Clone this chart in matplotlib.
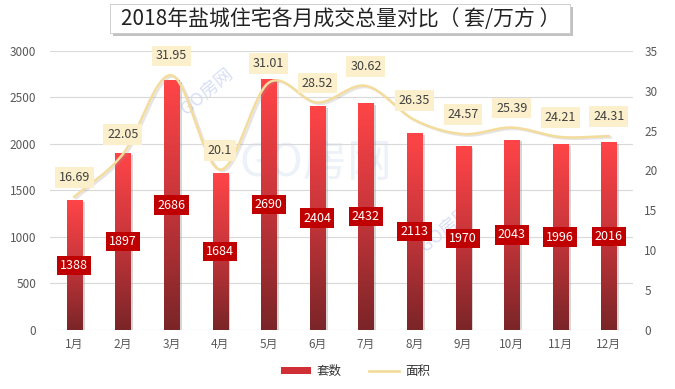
import numpy as np
import matplotlib.pyplot as plt
import matplotlib.patheffects as pe
from matplotlib.colors import LinearSegmentedColormap
from matplotlib.lines import Line2D
from matplotlib.patches import Patch, Rectangle

plt.rcParams["font.family"] = ["Noto Sans CJK SC", "DejaVu Sans"]

months = ["1月", "2月", "3月", "4月", "5月", "6月", "7月", "8月", "9月", "10月", "11月", "12月"]
units = [1388, 1897, 2686, 1684, 2690, 2404, 2432, 2113, 1970, 2043, 1996, 2016]
area = [16.69, 22.05, 31.95, 20.1, 31.01, 28.52, 30.62, 26.35, 24.57, 25.39, 24.21, 24.31]
title = "2018年盐城住宅各月成交总量对比（ 套/万方 ）"

TICK_C = "#595959"
LINE_C = "#F3DC9C"
BAR_CMAP = LinearSegmentedColormap.from_list("bar", ["#7A2528", "#C5353A", "#FF4548"])


def smooth(xs, ys, n=20):
    # Catmull-Rom curve through the points, like an office "smoothed line"
    xs = np.asarray(xs, float)
    ys = np.asarray(ys, float)
    px = np.concatenate([[2 * xs[0] - xs[1]], xs, [2 * xs[-1] - xs[-2]]])
    py = np.concatenate([[2 * ys[0] - ys[1]], ys, [2 * ys[-1] - ys[-2]]])
    out_x, out_y = [], []
    t = np.linspace(0, 1, n, endpoint=False)
    for i in range(1, len(px) - 2):
        for p, o in ((px, out_x), (py, out_y)):
            p0, p1, p2, p3 = p[i - 1], p[i], p[i + 1], p[i + 2]
            o.extend(0.5 * ((2 * p1) + (-p0 + p2) * t
                            + (2 * p0 - 5 * p1 + 4 * p2 - p3) * t ** 2
                            + (-p0 + 3 * p1 - 3 * p2 + p3) * t ** 3))
    out_x.append(xs[-1])
    out_y.append(ys[-1])
    return np.array(out_x), np.array(out_y)


fig = plt.figure(figsize=(6.75, 3.89), dpi=100)
ax = fig.add_axes([0.074, 0.152, 0.864, 0.717])
x = np.arange(len(months))

# faint watermark behind everything
ax.text(0.455, 0.60, "GO房网", transform=ax.transAxes, fontsize=32, color="#8FA8D8", alpha=0.16,
        ha="center", va="center", zorder=0)
ax.text(0.27, 0.85, "GO房网", transform=ax.transAxes, fontsize=13, color="#7E95E0", alpha=0.3,
        rotation=40, ha="center", va="center", zorder=0)
ax.text(0.68, 0.36, "GO房网", transform=ax.transAxes, fontsize=13, color="#7E95E0", alpha=0.3,
        rotation=40, ha="center", va="center", zorder=0)

# bars with soft shadow, then a vertical gradient clipped into each bar
bars = ax.bar(x, units, width=0.31, color="#C5353A", zorder=2,
              path_effects=[pe.SimplePatchShadow(offset=(2, -1), shadow_rgbFace="#999999", alpha=0.4),
                            pe.Normal()])
grad = np.linspace(0, 1, 256).reshape(-1, 1)
for b in bars:
    x0, w, h = b.get_x(), b.get_width(), b.get_height()
    ax.imshow(grad, extent=[x0, x0 + w, 0, h], origin="lower", aspect="auto",
              cmap=BAR_CMAP, zorder=2.1)
for xi, v in zip(x, units):
    ax.text(xi, v / 2, str(v), ha="center", va="center", color="white", fontsize=9,
            zorder=4, bbox=dict(boxstyle="square,pad=0.25", fc="#C00000", ec="none"))

ax.set_xlim(-0.5, len(months) - 0.5)
ax.set_ylim(0, 3000)
ax.set_yticks(range(0, 3001, 500))
ax.set_xticks(x)
ax.set_xticklabels(months)
ax.grid(axis="y", color="#D9D9D9", linewidth=0.8)
ax.set_axisbelow(True)
for s in ax.spines.values():
    s.set_visible(False)
ax.tick_params(length=0, colors=TICK_C, labelsize=8.5, pad=10)
ax.tick_params(axis="x", pad=6)

ax2 = ax.twinx()
ax2.set_ylim(0, 35)
ax2.set_yticks(range(0, 36, 5))
for s in ax2.spines.values():
    s.set_visible(False)
ax2.tick_params(length=0, colors=TICK_C, labelsize=8.5, pad=8)
sx, sy = smooth(x, area)
ax2.plot(sx, sy, color=LINE_C, linewidth=1.8, zorder=3,
         path_effects=[pe.SimpleLineShadow(offset=(1.5, -1), shadow_color="#999999", alpha=0.25), pe.Normal()])
for xi, v in zip(x, area):
    ax2.annotate(f"{v:g}", (xi, v), xytext=(0, 14), textcoords="offset points",
                 ha="center", va="center", fontsize=9, color="#404040", zorder=5,
                 bbox=dict(boxstyle="square,pad=0.3", fc="#FCF0CC", ec="none"))

# title box with a drop shadow
fig.patches.append(Rectangle((0.168, 0.907), 0.681, 0.074, transform=fig.transFigure,
                             fc="#9A9A9A", ec="none", alpha=0.6, zorder=1))
fig.patches.append(Rectangle((0.163, 0.915), 0.681, 0.074, transform=fig.transFigure,
                             fc="white", ec="#C8C8C8", lw=0.6, zorder=2))
fig.text(0.504, 0.951, title, ha="center", va="center", fontsize=15, color="#222222", zorder=3)

handles = [Patch(facecolor="#D03035", edgecolor="none"),
           Line2D([0], [0], color=LINE_C, linewidth=2)]
fig.legend(handles, ["套数", "面积"], loc="center", bbox_to_anchor=(0.527, 0.045), ncol=2,
           frameon=False, fontsize=9, handlelength=2.4, handleheight=0.5, columnspacing=2.2,
           handletextpad=0.5, labelcolor="#333333")

fig.savefig("out.png", dpi=100)
